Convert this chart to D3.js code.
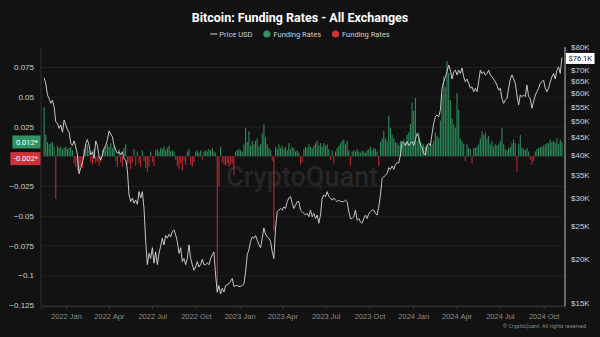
<!DOCTYPE html>
<html><head><meta charset="utf-8">
<script src="https://cdn.jsdelivr.net/npm/d3@7"></script>
<style>
html,body{margin:0;padding:0;background:#121212;}
svg{display:block;font-family:Roboto,"Noto Sans",sans-serif;}
</style></head><body>
<svg id="c" width="600" height="337"></svg>
<script>
// ---- data ----
const titleText = "Bitcoin: Funding Rates - All Exchanges";
const seriesStart = "2021-11-16";
const stepHours = 84;

const priceUsdK = [
66.5,64.1,59.4,58.0,56.2,57.4,54.9,49.7,49.2,47.6,48.7,46.4,50.3,48.7,47.3,46.4,43.1,42.5,43.8,42.1,
39.9,35.3,36.7,38.0,39.9,43.1,44.2,42.5,39.9,40.8,39.0,43.8,42.5,39.5,38.6,39.9,41.7,42.5,44.2,46.8,
45.9,45.0,42.5,41.2,40.3,40.8,39.9,40.8,39.0,38.6,36.1,30.6,29.3,30.0,29.0,29.6,28.8,31.3,30.0,31.3,
28.0,22.5,19.3,20.8,20.1,21.6,19.5,21.0,19.3,20.8,21.8,23.0,22.0,23.4,23.0,23.6,23.2,
24.0,24.3,23.5,22.5,20.8,21.6,19.7,20.1,19.3,20.1,22.0,20.1,19.3,18.6,19.0,19.7,19.0,19.3,20.0,19.3,
19.3,19.5,19.3,20.1,20.6,21.0,18.0,16.1,16.8,15.9,16.5,16.1,16.8,16.9,17.0,17.3,17.6,16.7,16.8,16.8,
16.7,16.7,16.8,17.0,18.4,20.6,21.3,22.5,23.2,23.0,23.4,22.7,22.0,21.6,23.0,24.6,23.6,23.2,23.0,22.5,
21.0,20.1,24.6,27.4,27.7,28.0,27.7,28.3,28.0,29.3,30.0,30.3,29.0,28.0,28.6,29.3,29.3,27.7,27.4,
27.1,26.8,27.1,26.5,27.7,26.5,27.1,26.2,26.8,25.4,26.8,30.0,30.6,30.3,31.3,30.3,30.0,29.6,30.0,29.6,
29.3,29.6,29.3,29.3,29.3,29.6,29.3,27.4,26.2,26.2,26.5,27.7,25.9,26.2,25.6,25.4,26.2,26.8,26.2,27.1,
27.4,27.7,27.7,27.1,26.8,28.3,30.6,34.2,34.5,34.9,35.3,36.7,36.3,37.1,36.3,37.5,37.9,37.9,39.9,43.6,
43.1,42.5,43.6,42.5,43.1,43.6,42.5,44.2,46.0,45.0,42.5,42.0,40.4,39.9,42.5,43.1,42.5,45.9,49.2,
51.4,52.0,51.4,53.7,62.1,64.8,67.0,69.3,72.4,70.0,66.0,69.3,70.0,67.8,70.0,68.5,71.0,67.0,64.8,66.0,
64.2,62.1,62.7,60.7,62.1,60.7,64.8,70.0,68.5,69.3,67.8,68.5,70.0,67.8,67.0,66.0,64.8,63.4,61.3,62.1,
58.0,56.2,57.4,58.0,62.1,66.0,67.8,66.0,64.2,59.4,55.6,59.4,58.7,59.4,58.7,63.4,58.7,58.0,54.4,56.8,
59.4,60.7,62.1,64.2,64.8,65.5,62.1,60.7,62.1,64.8,67.0,68.5,66.0,70.0,71.5,68.5,76.1
];

const fundingRate = [
0.041,0.018,0.012,0.010,0.011,0.012,0.008,-0.036,0.009,0.007,
0.008,0.006,0.007,0.008,0.006,0.007,0.008,0.005,-0.006,-0.009,
-0.012,-0.015,-0.008,-0.010,0.006,0.009,0.010,0.005,-0.005,-0.007,
0.006,-0.006,-0.004,-0.008,-0.005,0.005,0.007,0.009,0.010,0.008,
0.011,0.007,0.009,-0.004,-0.009,0.006,-0.005,-0.009,0.007,0.010,
-0.007,-0.006,-0.011,-0.005,0.006,-0.008,0.004,-0.006,-0.009,0.005,
-0.004,-0.010,-0.013,-0.009,0.004,-0.005,-0.008,0.005,0.006,0.004,
0.007,0.006,0.008,0.005,0.007,0.009,0.004,
0.005,0.004,-0.003,-0.008,-0.011,-0.006,-0.012,-0.004,-0.007,0.004,
0.006,-0.007,-0.009,-0.005,0.004,0.005,0.003,0.005,-0.003,0.004,
0.005,0.004,0.006,0.005,0.007,0.004,0.003,-0.115,-0.025,0.008,
-0.005,-0.007,-0.008,-0.006,-0.009,-0.007,-0.006,-0.016,0.004,0.005,
0.006,0.005,0.004,0.010,0.024,0.012,0.021,0.009,0.013,0.010,
0.013,0.015,0.008,0.010,0.019,0.027,0.016,0.010,0.007,0.005,
-0.004,-0.063,0.008,0.006,0.010,0.007,0.009,0.006,0.008,0.005,
0.011,0.006,0.008,0.007,0.004,0.005,0.003,-0.007,-0.005,
0.006,0.008,0.007,0.010,0.008,0.007,0.009,0.011,0.013,0.009,
0.011,0.008,0.011,0.009,0.010,0.006,-0.003,0.005,-0.006,0.004,
0.007,0.009,0.011,0.013,0.014,0.010,0.013,0.005,-0.008,0.004,
0.005,0.004,0.006,0.004,0.003,0.005,0.004,0.003,0.005,0.006,
0.008,0.005,0.007,0.006,0.004,-0.008,0.012,0.015,0.021,0.015,
0.013,0.034,0.024,0.018,0.015,0.012,0.011,0.009,0.013,0.010,
0.014,0.012,0.018,0.020,0.027,0.045,0.038,0.049,0.013,0.020,
0.013,0.011,0.010,0.008,0.010,0.009,0.011,0.010,0.013,
0.020,0.017,0.015,0.030,0.052,0.067,0.058,0.080,0.070,0.047,
0.032,0.027,0.024,0.053,0.039,0.015,0.013,0.010,-0.004,0.010,
0.007,0.006,-0.006,0.007,0.007,0.008,0.010,0.015,0.021,0.018,
0.020,0.015,0.017,0.010,0.013,0.008,0.010,0.009,0.010,0.013,
0.024,0.010,0.006,0.005,0.007,0.008,0.011,0.014,0.011,-0.013,
0.010,0.018,0.007,0.006,0.005,0.007,0.004,-0.003,-0.007,-0.004,
0.004,0.006,0.007,0.008,0.008,0.009,0.010,0.011,0.011,0.014,
0.012,0.013,0.011,0.015,0.010,0.014,0.012
];

const leftTicks = [0.075, 0.05, 0.025, -0.025, -0.05, -0.075, -0.1, -0.125];
const gridTicks = [0.075, 0.05, 0.025, 0, -0.025, -0.05, -0.075, -0.1, -0.125];
const priceTicks = [15000, 20000, 25000, 30000, 35000, 40000, 45000, 50000, 55000, 60000, 65000, 70000, 80000];
const legendLabels = ["Price USD", "Funding Rates", "Funding Rates"];
const latestFunding = [0.012, -0.002];
const latestFundingText = ["0.012*", "-0.002*"];
const latestPrice = 76100;
const latestPriceText = "$76.1K";

// ---- drawing ----
const W = 600, H = 337;
const L = 41, R = 565, T = 47, B = 306;
const colGreen = "#2f9461", colRed = "#c42b35", colLine = "#d8d8d8";

const svg = d3.select("#c");
svg.append("rect").attr("width", W).attr("height", H).attr("fill", "#121212");

const parse = d3.utcParse("%Y-%m-%d");
const t0 = parse(seriesStart);
const dates = priceUsdK.map((_, i) => d3.utcHour.offset(t0, i * stepHours));

const x = d3.scaleUtc().domain([new Date(Date.UTC(2021, 10, 9, 10)), new Date(Date.UTC(2024, 10, 15))]).range([L, R]);
const yL = d3.scaleLinear().domain([-0.125, 0.075]).range([305, 67]);
const yR = d3.scaleLog().domain([15000, 80000]).range([302.7, 50]);

svg.append("defs").append("clipPath").attr("id", "clip")
  .append("rect").attr("x", L).attr("y", T).attr("width", R - L).attr("height", B - T);

// gridlines
svg.append("g").attr("transform", `translate(${L},0)`)
  .call(d3.axisLeft(yL).tickValues(gridTicks).tickSize(-(R - L)).tickFormat(""))
  .call(g => g.select(".domain").remove())
  .call(g => g.selectAll("line").attr("stroke", "#1f1f1f").attr("stroke-width", 1));

// watermark
svg.append("text").attr("x", 302).attr("y", 186).attr("text-anchor", "middle")
  .attr("font-size", 27).attr("font-weight", 500).attr("fill", "#262626").text("CryptoQuant");

const plot = svg.append("g").attr("clip-path", "url(#clip)");

// funding bars
const step = x(dates[1]) - x(dates[0]);
const bw = Math.max(1, step * 0.68);
plot.append("g").selectAll("rect").data(fundingRate).join("rect")
  .attr("x", (d, i) => x(dates[i]) - bw / 2)
  .attr("y", d => Math.min(yL(d), yL(0)))
  .attr("width", bw)
  .attr("height", d => Math.abs(yL(d) - yL(0)))
  .attr("fill", d => d >= 0 ? colGreen : colRed)
  .attr("fill-opacity", 0.92);

// price line
plot.append("path").datum(priceUsdK)
  .attr("fill", "none").attr("stroke", colLine).attr("stroke-width", 0.9).attr("stroke-linejoin", "round")
  .attr("d", d3.line().x((d, i) => x(dates[i])).y(d => yR(d * 1000)));

// bottom axis
svg.append("g").attr("transform", `translate(0,${B})`)
  .call(d3.axisBottom(x).ticks(d3.utcMonth.every(3)).tickFormat(d3.utcFormat("%Y %b")).tickSize(3).tickPadding(5))
  .call(g => g.select(".domain").attr("stroke", "#2e2e2e"))
  .call(g => g.selectAll(".tick line").attr("stroke", "#3a3a3a"))
  .call(g => g.selectAll("text").attr("fill", "#8c8c8c").attr("font-size", 7.5));

// left axis
svg.append("g").attr("transform", `translate(${L},0)`)
  .call(d3.axisLeft(yL).tickValues(leftTicks).tickSize(0).tickPadding(7).tickFormat(d3.format("")))
  .call(g => g.select(".domain").remove())
  .call(g => g.selectAll("text").attr("fill", "#cfcfcf").attr("font-size", 8));
svg.append("line").attr("x1", L).attr("x2", L).attr("y1", T).attr("y2", B).attr("stroke", "#2e2e2e");

// right axis
svg.append("g").attr("transform", `translate(${R},0)`)
  .call(d3.axisRight(yR).tickValues(priceTicks).tickSize(0).tickPadding(6).tickFormat(d => "$" + d / 1000 + "K"))
  .call(g => g.select(".domain").remove())
  .call(g => g.selectAll("text").attr("fill", "#cfcfcf").attr("font-size", 8))
  .call(g => g.selectAll(".tick").filter(d => d === 80000).select("text").attr("dy", "-0.05em"));
svg.append("line").attr("x1", R).attr("x2", R).attr("y1", T).attr("y2", B).attr("stroke", "#bdbdbd");

// latest-value boxes (left)
const boxCols = [colGreen, "#d0323a"];
latestFunding.forEach((v, i) => {
  const g = svg.append("g");
  const t = g.append("text").attr("x", L - 3).attr("y", yL(v)).attr("dy", "0.35em")
    .attr("text-anchor", "end").attr("font-size", 7.5).attr("fill", "#ffffff").text(latestFundingText[i]);
  const w = t.node().getComputedTextLength() + 6;
  g.insert("rect", "text").attr("x", L - w - 0.5).attr("y", yL(v) - 6.5).attr("width", w).attr("height", 13)
    .attr("fill", boxCols[i]);
});

// latest price box (right)
{
  const g = svg.append("g");
  const t = g.append("text").attr("x", R + 3.5).attr("y", yR(latestPrice) + 0.8).attr("dy", "0.35em")
    .attr("font-size", 7.5).attr("fill", "#111").text(latestPriceText);
  const w = t.node().getComputedTextLength() + 5;
  g.insert("rect", "text").attr("x", R + 1).attr("y", yR(latestPrice) - 4.6).attr("width", w).attr("height", 11)
    .attr("fill", "#ffffff");
}

// title
svg.append("text").attr("x", 300).attr("y", 21.5).attr("text-anchor", "middle")
  .attr("font-size", 12.5).attr("font-weight", 700).attr("fill", "#ffffff").text(titleText);

// legend
{
  const lg = svg.append("g");
  let cx = 0;
  legendLabels.forEach((lab, i) => {
    const g = lg.append("g").attr("transform", `translate(${cx},0)`);
    if (i === 0) {
      g.append("line").attr("x1", 0).attr("x2", 7).attr("y1", 0).attr("y2", 0).attr("stroke", colLine).attr("stroke-width", 1);
    } else {
      g.append("circle").attr("cx", 3.5).attr("cy", 0).attr("r", 3.6).attr("fill", i === 1 ? colGreen : "#d0323a");
    }
    const t = g.append("text").attr("x", i === 0 ? 9 : 10).attr("dy", "0.35em").attr("font-size", 7.5)
      .attr("fill", "#d0d0d0").text(lab);
    cx += (i === 0 ? 9 : 10) + t.node().getComputedTextLength() + 11;
  });
  const total = cx - 11;
  lg.attr("transform", `translate(${300 - total / 2},34)`);
}

// copyright
svg.append("text").attr("x", 586).attr("y", 328).attr("text-anchor", "end")
  .attr("font-size", 5.5).attr("fill", "#8a8a8a").text("© CryptoQuant. All rights reserved");
</script>
</body></html>
